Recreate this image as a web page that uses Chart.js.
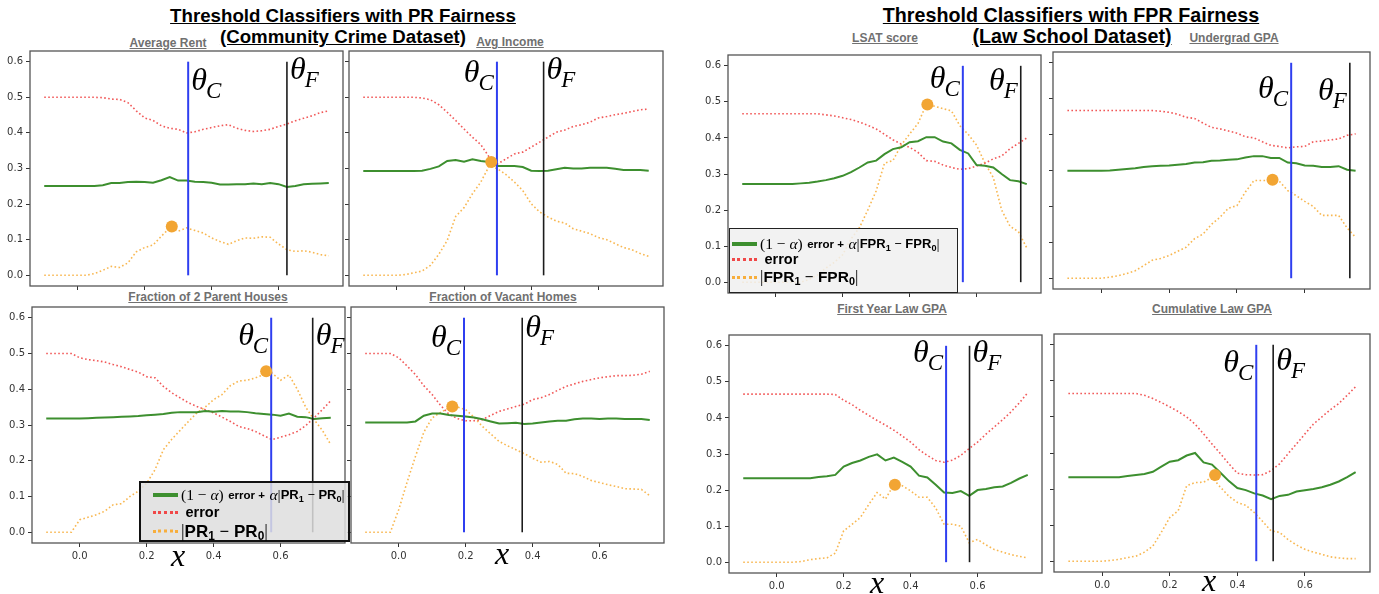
<!DOCTYPE html>
<html><head><meta charset="utf-8">
<script src="https://cdn.jsdelivr.net/npm/chart.js@4.4.0/dist/chart.umd.min.js"></script>
<style>
body{margin:0;width:1379px;height:594px;background:#fff;position:relative;overflow:hidden;font-family:"Liberation Sans",Arial,sans-serif}
canvas{position:absolute}
.main{position:absolute;font-weight:bold;text-decoration:underline;color:#000;white-space:nowrap;transform:translateX(-50%);line-height:21px}
.sub{position:absolute;font-weight:bold;font-size:12px;color:#707070;text-decoration:underline;white-space:nowrap;transform:translate(-50%,-50%)}
.xl{position:absolute;font-family:"Liberation Serif",serif;font-style:italic;font-size:32px;transform:translate(-50%,-50%);line-height:32px}
.leg{position:absolute;box-sizing:border-box}
.row{position:absolute;left:0;display:flex;align-items:center;white-space:nowrap;transform:translateY(-50%)}
.sw{display:inline-block;width:25px;height:0;margin-right:3px}
.g{border-top:4px solid #3d8f2f}
.r{border-top:3px dotted #f04848}
.o{border-top:3px dotted #f7ae3c}
.m{font-family:"Liberation Serif",serif}
b{font-family:"Liberation Sans",Arial,sans-serif}
sub{font-size:70%;vertical-align:-3px;line-height:0}
</style>
</head><body>

<div class="main" style="left:343px;top:5px;font-size:18.7px">Threshold Classifiers with PR Fairness</div>
<div class="main" style="left:343px;top:26px;font-size:18.7px">(Community Crime Dataset)</div>
<div class="main" style="left:1071px;top:5px;font-size:19.7px">Threshold Classifiers with FPR Fairness</div>
<div class="main" style="left:1072px;top:26px;font-size:19.7px">(Law School Dataset)</div>

<div class="sub" style="left:168px;top:43px">Average Rent</div>
<div class="sub" style="left:510px;top:42px">Avg Income</div>
<div class="sub" style="left:208px;top:297px">Fraction of 2 Parent Houses</div>
<div class="sub" style="left:503px;top:297px">Fraction of Vacant Homes</div>
<div class="sub" style="left:885px;top:38px">LSAT score</div>
<div class="sub" style="left:1234px;top:38px">Undergrad GPA</div>
<div class="sub" style="left:892px;top:309px">First Year Law GPA</div>
<div class="sub" style="left:1212px;top:309px">Cumulative Law GPA</div>

<canvas id="p1"></canvas><canvas id="p2"></canvas><canvas id="p3"></canvas><canvas id="p4"></canvas>
<canvas id="p5"></canvas><canvas id="p6"></canvas><canvas id="p7"></canvas><canvas id="p8"></canvas>

<div class="xl" style="left:178px;top:555px">x</div>
<div class="xl" style="left:502px;top:553px">x</div>
<div class="xl" style="left:877px;top:582px">x</div>
<div class="xl" style="left:1209px;top:580px">x</div>

<div class="leg" style="left:139px;top:481px;width:211px;height:61px;background:rgba(222,222,222,0.85);border:2px solid #111">
  <div class="row" style="top:12px;left:12px"><span class="sw g"></span><span class="m" style="font-size:15.5px">(1 − <i>α</i>)</span>&nbsp;<b style="font-size:11.5px">error +</b>&nbsp;<span class="m" style="font-size:15.5px"><i>α</i>|</span><b style="font-size:13px">PR<sub>1</sub> <span class="m">−</span> PR<sub>0</sub></b><span class="m" style="font-size:15.5px">|</span></div>
  <div class="row" style="top:29px;left:12px"><span class="sw r"></span>&nbsp;<b style="font-size:14.5px">error</b></div>
  <div class="row" style="top:48px;left:12px"><span class="sw o"></span><span class="m" style="font-size:18px">|</span><b style="font-size:17px">PR<sub>1</sub> <span class="m">−</span> PR<sub>0</sub></b><span class="m" style="font-size:18px">|</span></div>
</div>

<div class="leg" style="left:729px;top:228px;width:229px;height:65px;background:rgba(240,240,240,0.85);border:1.5px solid #222">
  <div class="row" style="top:15px;left:2px"><span class="sw g"></span><span class="m" style="font-size:15.5px">(1 − <i>α</i>)</span>&nbsp;<b style="font-size:11.5px">error +</b>&nbsp;<span class="m" style="font-size:15.5px"><i>α</i>|</span><b style="font-size:13px">FPR<sub>1</sub> <span class="m">−</span> FPR<sub>0</sub></b><span class="m" style="font-size:15.5px">|</span></div>
  <div class="row" style="top:30px;left:2px"><span class="sw r"></span>&nbsp;<b style="font-size:14.5px">error</b></div>
  <div class="row" style="top:48px;left:2px"><span class="sw o"></span><span class="m" style="font-size:17px">|</span><b style="font-size:15.5px">FPR<sub>1</sub> <span class="m">−</span> FPR<sub>0</sub></b><span class="m" style="font-size:17px">|</span></div>
</div>

<script>
// ---------- data ----------
const xs = [-0.1,-0.075,-0.05,-0.025,0,0.025,0.05,0.075,0.1,0.125,0.15,0.175,0.2,0.225,0.25,0.275,0.3,0.325,0.35,0.375,0.4,0.425,0.45,0.475,0.5,0.525,0.55,0.575,0.6,0.625,0.65,0.675,0.7,0.725,0.75];
const xTicks = [0, 0.2, 0.4, 0.6];
const yTicks = [0, 0.1, 0.2, 0.3, 0.4, 0.5, 0.6];
const vlineRange = [0, 0.6];

// Average Rent
const rentErr = [0.5,0.5,0.5,0.5,0.5,0.5,0.5,0.499,0.495,0.494,0.485,0.462,0.442,0.435,0.42,0.413,0.41,0.4,0.403,0.41,0.415,0.42,0.423,0.413,0.407,0.404,0.406,0.41,0.418,0.425,0.434,0.441,0.448,0.457,0.462];
const rentObj = [0.251,0.251,0.251,0.251,0.251,0.251,0.251,0.253,0.259,0.259,0.262,0.263,0.262,0.26,0.267,0.276,0.266,0.266,0.263,0.262,0.26,0.255,0.255,0.256,0.256,0.258,0.256,0.259,0.256,0.248,0.251,0.256,0.257,0.258,0.259];
const rentGap = [0,0,0,0,0,0,0.005,0.014,0.025,0.022,0.035,0.066,0.078,0.085,0.11,0.133,0.124,0.133,0.126,0.119,0.105,0.095,0.087,0.097,0.105,0.104,0.108,0.107,0.088,0.072,0.067,0.069,0.065,0.058,0.055];
const rentPeak = [0.281, 0.137];
const rentThresholds = [0.330, 0.625];

// Avg Income
const incErr = [0.5,0.5,0.5,0.5,0.5,0.5,0.5,0.498,0.493,0.479,0.458,0.435,0.411,0.388,0.367,0.332,0.313,0.327,0.341,0.346,0.36,0.374,0.388,0.402,0.408,0.418,0.423,0.43,0.442,0.446,0.451,0.455,0.46,0.465,0.467];
const incObj = [0.293,0.293,0.293,0.293,0.293,0.293,0.293,0.294,0.299,0.306,0.321,0.324,0.319,0.326,0.321,0.318,0.307,0.307,0.307,0.304,0.294,0.293,0.294,0.298,0.302,0.3,0.3,0.302,0.302,0.302,0.299,0.296,0.296,0.296,0.294];
const incGap = [0,0,0,0,0,0.002,0.007,0.012,0.028,0.059,0.098,0.165,0.19,0.229,0.262,0.307,0.299,0.283,0.262,0.238,0.201,0.178,0.164,0.152,0.147,0.131,0.124,0.117,0.106,0.1,0.089,0.078,0.072,0.061,0.053];
const incPeak = [0.281, 0.318];
const incThresholds = [0.298, 0.437];

// Fraction of 2 Parent Houses
const parErr = [0.5,0.5,0.5,0.5,0.488,0.483,0.48,0.476,0.469,0.463,0.455,0.448,0.435,0.432,0.408,0.39,0.376,0.362,0.352,0.343,0.334,0.322,0.31,0.296,0.29,0.282,0.27,0.259,0.266,0.273,0.282,0.298,0.32,0.343,0.368];
const parObj = [0.318,0.318,0.318,0.318,0.318,0.319,0.32,0.321,0.322,0.323,0.324,0.325,0.327,0.329,0.331,0.334,0.336,0.336,0.336,0.339,0.337,0.339,0.338,0.338,0.336,0.333,0.331,0.329,0.326,0.332,0.323,0.322,0.317,0.319,0.32];
const parGap = [0,0,0,0,0.035,0.042,0.049,0.059,0.077,0.08,0.1,0.115,0.137,0.175,0.231,0.26,0.285,0.31,0.334,0.35,0.371,0.385,0.41,0.423,0.425,0.432,0.441,0.445,0.425,0.44,0.4,0.35,0.315,0.285,0.245];
const parPeak = [0.557, 0.45];
const parThresholds = [0.572, 0.696];

// Fraction of Vacant Homes
const vacErr = [0.5,0.5,0.5,0.5,0.488,0.465,0.441,0.41,0.385,0.355,0.33,0.318,0.312,0.312,0.315,0.327,0.338,0.345,0.352,0.358,0.371,0.376,0.385,0.397,0.408,0.415,0.422,0.427,0.432,0.435,0.438,0.438,0.439,0.442,0.45];
const vacObj = [0.307,0.307,0.307,0.307,0.307,0.307,0.31,0.326,0.332,0.332,0.328,0.326,0.324,0.321,0.316,0.31,0.304,0.305,0.306,0.303,0.304,0.307,0.31,0.312,0.312,0.316,0.318,0.318,0.317,0.318,0.318,0.317,0.317,0.317,0.314];
const vacGap = [0,0,0,0,0.063,0.14,0.212,0.28,0.32,0.335,0.348,0.35,0.343,0.322,0.296,0.275,0.254,0.242,0.231,0.22,0.207,0.196,0.198,0.19,0.165,0.164,0.156,0.145,0.139,0.133,0.128,0.122,0.121,0.12,0.102];
const vacPeak = [0.16, 0.352];
const vacThresholds = [0.195, 0.369];

// LSAT score
const lsatErr = [0.467,0.467,0.467,0.467,0.467,0.467,0.467,0.467,0.467,0.467,0.464,0.461,0.456,0.451,0.444,0.435,0.425,0.41,0.395,0.383,0.374,0.36,0.337,0.335,0.325,0.318,0.313,0.315,0.322,0.33,0.342,0.35,0.37,0.385,0.4];
const lsatObj = [0.272,0.272,0.272,0.272,0.272,0.272,0.272,0.274,0.276,0.279,0.283,0.288,0.295,0.305,0.318,0.332,0.337,0.355,0.369,0.374,0.388,0.391,0.402,0.402,0.39,0.385,0.367,0.357,0.325,0.323,0.318,0.3,0.283,0.28,0.272];
const lsatGap = [0,0,0,0,0,0,0,0,0.008,0.02,0.039,0.055,0.076,0.12,0.151,0.2,0.253,0.33,0.337,0.38,0.411,0.44,0.493,0.488,0.481,0.475,0.434,0.41,0.38,0.33,0.29,0.2,0.155,0.14,0.095];
const lsatPeak = [0.453, 0.493];
const lsatThresholds = [0.559, 0.732];

// Undergrad GPA
const ugErr = [0.467,0.467,0.467,0.467,0.467,0.467,0.467,0.467,0.467,0.467,0.467,0.465,0.462,0.457,0.448,0.445,0.432,0.42,0.416,0.41,0.404,0.394,0.391,0.38,0.37,0.367,0.363,0.366,0.367,0.38,0.382,0.385,0.388,0.398,0.402];
const ugObj = [0.299,0.299,0.299,0.299,0.299,0.3,0.302,0.304,0.306,0.31,0.312,0.313,0.314,0.316,0.318,0.322,0.323,0.327,0.328,0.33,0.331,0.336,0.34,0.34,0.335,0.335,0.322,0.32,0.314,0.313,0.31,0.31,0.312,0.302,0.299];
const ugGap = [0,0,0,0,0,0.003,0.007,0.013,0.021,0.035,0.05,0.055,0.063,0.075,0.086,0.11,0.123,0.15,0.17,0.195,0.202,0.24,0.272,0.272,0.272,0.27,0.244,0.23,0.214,0.2,0.175,0.175,0.175,0.14,0.114];
const ugPeak = [0.505, 0.274];
const ugThresholds = [0.56, 0.733];

// First Year Law GPA
const fyErr = [0.466,0.466,0.466,0.466,0.466,0.466,0.466,0.466,0.466,0.466,0.466,0.465,0.449,0.437,0.421,0.407,0.393,0.38,0.366,0.35,0.333,0.312,0.296,0.282,0.277,0.283,0.296,0.315,0.333,0.355,0.375,0.395,0.417,0.442,0.47];
const fyObj = [0.233,0.233,0.233,0.233,0.233,0.233,0.233,0.233,0.233,0.236,0.238,0.242,0.265,0.275,0.282,0.292,0.299,0.282,0.29,0.278,0.265,0.24,0.235,0.215,0.193,0.192,0.197,0.184,0.2,0.203,0.208,0.21,0.22,0.232,0.242];
const fyGap = [0,0,0,0,0,0,0,0.002,0.007,0.01,0.012,0.025,0.087,0.105,0.124,0.16,0.193,0.175,0.215,0.212,0.198,0.18,0.18,0.15,0.105,0.105,0.1,0.054,0.063,0.048,0.035,0.028,0.021,0.016,0.012];
const fyPeak = [0.353, 0.215];
const fyThresholds = [0.506, 0.576];

// Cumulative Law GPA
const cumErr = [0.465,0.465,0.465,0.465,0.465,0.465,0.465,0.465,0.465,0.46,0.451,0.44,0.428,0.415,0.4,0.38,0.353,0.325,0.298,0.27,0.244,0.24,0.239,0.24,0.251,0.27,0.298,0.325,0.353,0.38,0.4,0.42,0.437,0.46,0.484];
const cumObj = [0.233,0.233,0.233,0.233,0.233,0.233,0.233,0.236,0.239,0.242,0.248,0.262,0.276,0.28,0.293,0.3,0.274,0.268,0.245,0.222,0.203,0.197,0.188,0.182,0.172,0.181,0.184,0.193,0.197,0.2,0.205,0.212,0.221,0.233,0.247];
const cumGap = [0,0,0,0,0,0.002,0.005,0.01,0.014,0.025,0.042,0.08,0.121,0.14,0.209,0.218,0.219,0.232,0.205,0.18,0.163,0.155,0.135,0.11,0.084,0.08,0.06,0.045,0.033,0.025,0.019,0.012,0.009,0.007,0.007];
const cumPeak = [0.334, 0.239];
const cumThresholds = [0.456, 0.506];

// ---------- layout / styling ----------
const panels = [
  {id:'p1', frame:[30,51,345,286],  err:rentErr, obj:rentObj, gap:rentGap, peak:rentPeak, th:rentThresholds, xl:false, yl:true,  lab:[['right',0.52],['right',0.55]]},
  {id:'p2', frame:[349,51,665,286], err:incErr,  obj:incObj,  gap:incGap,  peak:incPeak,  th:incThresholds,  xl:false, yl:false, lab:[['left',0.543],['right',0.55]]},
  {id:'p3', frame:[32,307,347,543], err:parErr,  obj:parObj,  gap:parGap,  peak:parPeak,  th:parThresholds,  xl:true,  yl:true,  lab:[['left',0.524],['right',0.524]]},
  {id:'p4', frame:[351,307,666,543],err:vacErr,  obj:vacObj,  gap:vacGap,  peak:vacPeak,  th:vacThresholds,  xl:true,  yl:false, lab:[['left',0.518],['right',0.546]]},
  {id:'p5', frame:[728,55,1043,293],err:lsatErr, obj:lsatObj, gap:lsatGap, peak:lsatPeak, th:lsatThresholds, xl:false, yl:true,  lab:[['left',0.539],['left',0.533]]},
  {id:'p6', frame:[1053,52,1372,289],err:ugErr,  obj:ugObj,   gap:ugGap,   peak:ugPeak,   th:ugThresholds,   xl:false, yl:false, lab:[['left',0.503],['left',0.497]]},
  {id:'p7', frame:[729,335,1044,573],err:fyErr,  obj:fyObj,   gap:fyGap,   peak:fyPeak,   th:fyThresholds,   xl:true,  yl:true,  lab:[['left',0.556],['right',0.556]]},
  {id:'p8', frame:[1054,334,1372,572],err:cumErr,obj:cumObj,  gap:cumGap,  peak:cumPeak,  th:cumThresholds,  xl:true,  yl:false, lab:[['left',0.525],['right',0.53]]}
];

const PADL=2, PADT=12, PADR=4, YW=32, XH=24;

const decorPlugin = {
  id:'decor',
  afterDraw(chart){
    const o = chart.options.plugins.decor;
    const {ctx, chartArea:a, scales:{x,y}} = chart;
    ctx.save();
    ctx.strokeStyle = '#555'; ctx.lineWidth = 1.3;
    ctx.strokeRect(a.left, a.top, a.right-a.left, a.bottom-a.top);
    ctx.fillStyle = '#000';
    ctx.textBaseline = 'alphabetic';
    o.labels.forEach(l => {
      const px = x.getPixelForValue(l.x), py = y.getPixelForValue(l.y);
      ctx.font = 'italic 32px "Liberation Serif"';
      const w1 = ctx.measureText('θ').width;
      ctx.font = 'italic 23px "Liberation Serif"';
      const w2 = ctx.measureText(l.sub).width;
      const sx = l.side === 'right' ? px + 3 : px - 2 - (w1 + w2);
      ctx.font = 'italic 32px "Liberation Serif"';
      ctx.fillText('θ', sx, py);
      ctx.font = 'italic 23px "Liberation Serif"';
      ctx.fillText(l.sub, sx + w1 - 1, py + 8);
    });
    ctx.restore();
  }
};

panels.forEach(p => {
  const [l,t,r,b] = p.frame;
  const cv = document.getElementById(p.id);
  const W = r - l + YW + PADL + PADR, H = b - t + PADT + XH;
  cv.width = W; cv.height = H;
  cv.style.left = (l - YW - PADL) + 'px';
  cv.style.top = (t - PADT) + 'px';
  const pts = arr => xs.map((v,i) => ({x:v, y:arr[i]}));
  const vline = v => vlineRange.map(yy => ({x:v, y:yy}));
  new Chart(cv, {
    type:'line',
    data:{datasets:[
      {data:[{x:p.peak[0], y:p.peak[1]}], showLine:false, pointRadius:6, pointBackgroundColor:'#f2a533', pointBorderWidth:0, order:0},
      {data:vline(p.th[0]), borderColor:'#2f3ff0', borderWidth:2, pointRadius:0, order:1},
      {data:vline(p.th[1]), borderColor:'#1c1c1c', borderWidth:1.6, pointRadius:0, order:1},
      {data:pts(p.obj), borderColor:'#3d8f2f', borderWidth:2, pointRadius:0, order:2},
      {data:pts(p.err), borderColor:'rgba(240,70,70,0.9)', borderWidth:1.6, borderDash:[1.6,2.4], pointRadius:0, order:3},
      {data:pts(p.gap), borderColor:'rgba(247,170,50,0.85)', borderWidth:1.6, borderDash:[1.6,2.4], pointRadius:0, order:4}
    ]},
    options:{
      responsive:false, animation:false, devicePixelRatio:1,
      layout:{padding:{left:PADL, top:PADT, right:PADR, bottom:0}},
      plugins:{legend:{display:false}, tooltip:{enabled:false},
        decor:{labels:[{x:p.th[0], y:p.lab[0][1], side:p.lab[0][0], sub:'C'},{x:p.th[1], y:p.lab[1][1], side:p.lab[1][0], sub:'F'}]}},
      scales:{
        x:{type:'linear', min:-0.1425, max:0.7925,
          afterBuildTicks:s => { s.ticks = xTicks.map(v => ({value:v})); },
          afterFit:s => { s.height = XH; },
          ticks:{display:p.xl, callback:v => v.toFixed(1), color:'#333', font:{size:10, family:'"DejaVu Sans"'}, padding:3, maxRotation:0, autoSkip:false},
          grid:{drawOnChartArea:false, drawTicks:true, tickLength:4, tickColor:'#333', color:'#333'},
          border:{display:false}},
        y:{type:'linear', min:-0.03, max:0.63,
          afterBuildTicks:s => { s.ticks = yTicks.map(v => ({value:v})); },
          afterFit:s => { s.width = YW; },
          ticks:{display:p.yl, callback:v => v.toFixed(1), color:'#333', font:{size:10, family:'"DejaVu Sans"'}, padding:3, autoSkip:false},
          grid:{drawOnChartArea:false, drawTicks:true, tickLength:4, tickColor:'#333', color:'#333'},
          border:{display:false}}
      }
    },
    plugins:[decorPlugin]
  });
});
</script>
</body></html>
